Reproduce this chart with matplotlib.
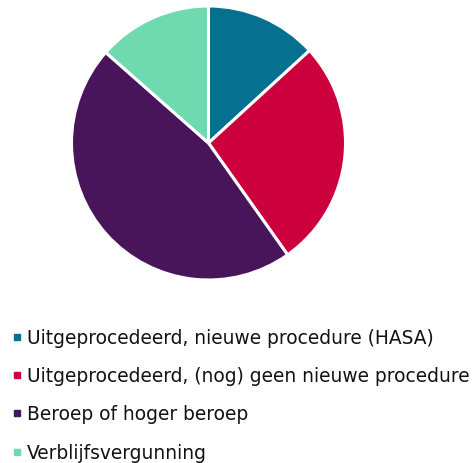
import matplotlib.pyplot as plt
from matplotlib.lines import Line2D

# categorieen en aandelen (procent, geschat uit de figuur)
labels = ['Uitgeprocedeerd, nieuwe procedure (HASA)',
          'Uitgeprocedeerd, (nog) geen nieuwe procedure',
          'Beroep of hoger beroep',
          'Verblijfsvergunning']
values = [13.2, 27.0, 46.3, 13.5]
colors = ['#05708f', '#cc003d', '#48155a', '#6fd9b0']

W, H = 474, 463
fig = plt.figure(figsize=(W / 100, H / 100), dpi=100)

# pie positie in pixels
cx, cy, r = 208.5, 143, 137
ax = fig.add_axes([(cx - r) / W, (H - cy - r) / H, 2 * r / W, 2 * r / H])
ax.pie(values, colors=colors, startangle=90, counterclock=False,
       wedgeprops=dict(edgecolor='white', linewidth=2.2))
ax.set_xlim(-1, 1)
ax.set_ylim(-1, 1)
ax.set_aspect('equal')
ax.axis('off')

# legenda, met de hand geplaatst
for i, (lab, c) in enumerate(zip(labels, colors)):
    y_base = 343.5 + i * 38.4
    y_mid = 336.5 + i * 38.4
    fig.add_artist(Line2D([16.5 / W], [1 - y_mid / H], transform=fig.transFigure,
                          marker='s', linestyle='none', markersize=3.7,
                          markerfacecolor=c, markeredgecolor=c))
    fig.text(27 / W, 1 - y_base / H, lab, fontsize=13.45, va='baseline',
             ha='left', color='#111111')

fig.savefig('out.png', dpi=100)
